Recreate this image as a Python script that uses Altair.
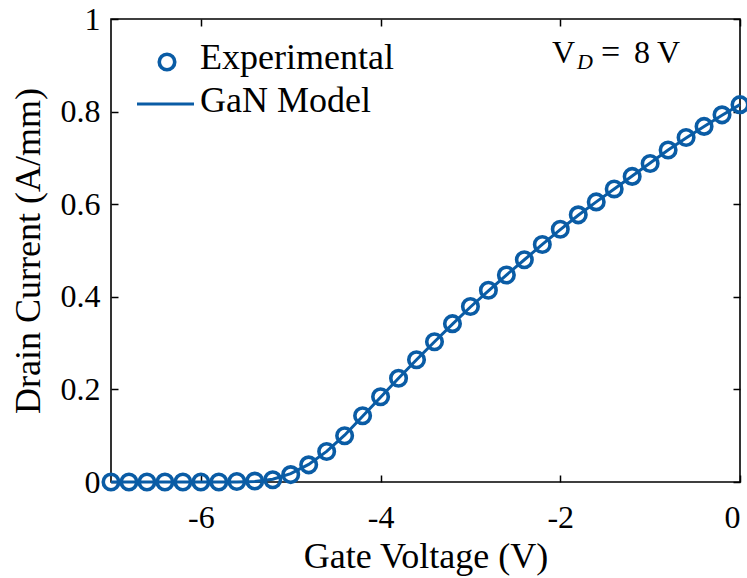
import altair as alt
import pandas as pd

# Gate voltage grid (V)
gate_voltage = [-7.0, -6.8, -6.6, -6.4, -6.2, -6.0, -5.8, -5.6, -5.4, -5.2,
                -5.0, -4.8, -4.6, -4.4, -4.2, -4.0, -3.8, -3.6, -3.4, -3.2,
                -3.0, -2.8, -2.6, -2.4, -2.2, -2.0, -1.8, -1.6, -1.4, -1.2,
                -1.0, -0.8, -0.6, -0.4, -0.2, 0.0]
# Experimental drain current (A/mm)
exp_current = [0.000, 0.000, 0.000, 0.000, 0.000, 0.000, 0.000, 0.001, 0.002, 0.005,
               0.016, 0.037, 0.066, 0.100, 0.143, 0.184, 0.224, 0.264, 0.303, 0.342,
               0.379, 0.414, 0.447, 0.480, 0.513, 0.546, 0.577, 0.605, 0.633, 0.660,
               0.688, 0.717, 0.744, 0.768, 0.793, 0.815]
# GaN model drain current (A/mm)
model_current = [0.000, 0.000, 0.000, 0.000, 0.000, 0.000, 0.000, 0.000, 0.001, 0.006,
                 0.018, 0.038, 0.066, 0.101, 0.142, 0.183, 0.224, 0.264, 0.303, 0.341,
                 0.378, 0.413, 0.447, 0.480, 0.513, 0.545, 0.576, 0.605, 0.633, 0.661,
                 0.689, 0.717, 0.743, 0.768, 0.792, 0.815]

x_ticks = [-6, -4, -2, 0]
y_ticks = [0, 0.2, 0.4, 0.6, 0.8, 1]

BLUE = "#0a5ca5"
FONT = "'Times New Roman', 'Liberation Serif', 'DejaVu Serif', serif"
W, H = 629, 463

df_exp = pd.DataFrame({"v": gate_voltage, "i": exp_current})
df_model = pd.DataFrame({"v": gate_voltage, "i": model_current})

xscale = alt.Scale(domain=[-7, 0], nice=False)
yscale = alt.Scale(domain=[0, 1], nice=False)

tick_common = dict(offset=-7, tickSize=7, tickWidth=1.5, tickColor="black",
                   domain=False, grid=False)

x_bottom = alt.Axis(orient="bottom", values=x_ticks, labelExpr="'' + datum.value",
                    labelFont=FONT, labelFontSize=32, labelColor="black",
                    labelPadding=20, title="Gate Voltage (V)", titleFont=FONT,
                    titleFontSize=36, titleFontWeight="normal", titleColor="black",
                    titleY=92, titleBaseline="alphabetic", **tick_common)
y_left = alt.Axis(orient="left", values=y_ticks, labelExpr="'' + datum.value",
                  labelFont=FONT, labelFontSize=32, labelColor="black",
                  labelPadding=11, title="Drain Current (A/mm)", titleFont=FONT,
                  titleFontSize=36, titleFontWeight="normal", titleColor="black",
                  titleX=-90, titleY=231.5, titleAlign="center",
                  titleBaseline="middle", titleAngle=270, **tick_common)
x_top = alt.Axis(orient="top", values=x_ticks, labels=False, title=None, **tick_common)
y_right = alt.Axis(orient="right", values=y_ticks, labels=False, title=None, **tick_common)

line = alt.Chart(df_model).mark_line(color=BLUE, strokeWidth=3).encode(
    x=alt.X("v:Q", scale=xscale, axis=x_bottom),
    y=alt.Y("i:Q", scale=yscale, axis=y_left),
)
points = alt.Chart(df_exp).mark_point(shape="circle", filled=False, color=BLUE,
                                      size=240, strokeWidth=3.6, opacity=1).encode(
    x=alt.X("v:Q", scale=xscale, axis=x_top),
    y=alt.Y("i:Q", scale=yscale, axis=y_right),
)

one = alt.Data(values=[{"k": 1}])


def txt(s, x, y, size=36, style="normal"):
    return alt.Chart(one).mark_text(font=FONT, fontSize=size, fontStyle=style, align="left",
                                    baseline="alphabetic", color="black").encode(
        x=alt.value(x), y=alt.value(y), text=alt.value(s))


leg_pt = alt.Chart(one).mark_point(shape="circle", filled=False, color=BLUE, size=240,
                                   strokeWidth=3.6, opacity=1).encode(
    x=alt.value(56), y=alt.value(43))
leg_ln = alt.Chart(one).mark_rule(color=BLUE, strokeWidth=3).encode(
    x=alt.value(26), x2=alt.value(83), y=alt.value(85))
leg_t1 = txt("Experimental", 89, 50)
leg_t2 = txt("GaN Model", 89, 93)

ann_v = txt("V", 441, 44, size=32)
ann_d = txt("D", 466, 50, size=22, style="italic")
ann_eq = txt("=", 490, 44, size=34)
ann_8 = txt("8", 523, 44, size=32)
ann_v2 = txt("V", 546, 44, size=32)

chart = alt.layer(line, points, leg_pt, leg_ln, leg_t1, leg_t2,
                  ann_v, ann_d, ann_eq, ann_8, ann_v2).resolve_axis(
    x="independent", y="independent"
).properties(
    width=W, height=H,
    autosize=alt.AutoSizeParams(type="none"),
    padding={"left": 111, "top": 19, "right": 7, "bottom": 96},
    background="white",
).configure_view(stroke="black", strokeWidth=1.6)

chart.save("out.html", embed_options={"renderer": "svg", "actions": False})
